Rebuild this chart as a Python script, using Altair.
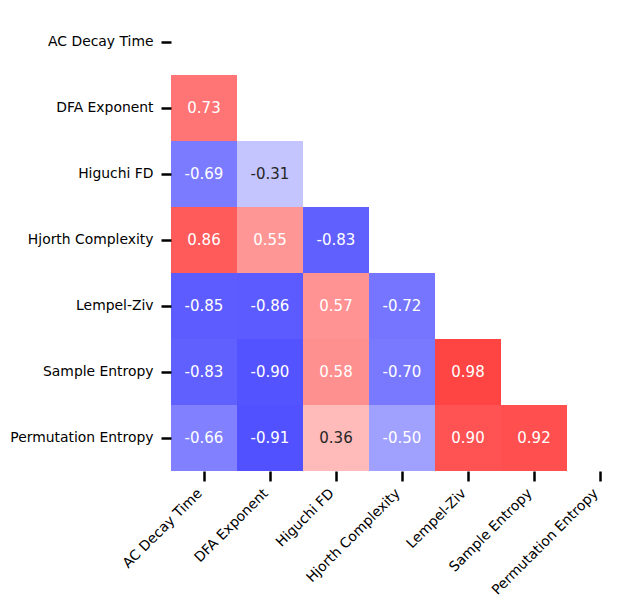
import altair as alt
import pandas as pd

features = ["AC Decay Time", "DFA Exponent", "Higuchi FD", "Hjorth Complexity",
            "Lempel-Ziv", "Sample Entropy", "Permutation Entropy"]

# lower-triangle correlation values, row by row (row i has i values)
row_dfa = [0.73]
row_higuchi = [-0.69, -0.31]
row_hjorth = [0.86, 0.55, -0.83]
row_lempel = [-0.85, -0.86, 0.57, -0.72]
row_sample = [-0.83, -0.90, 0.58, -0.70, 0.98]
row_perm = [-0.66, -0.91, 0.36, -0.50, 0.90, 0.92]

rows = [row_dfa, row_higuchi, row_hjorth, row_lempel, row_sample, row_perm]
records = []
for i, vals in enumerate(rows, start=1):
    for j, v in enumerate(vals):
        records.append({"row": features[i], "col": features[j], "value": v,
                        "label": f"{v:.2f}"})
df = pd.DataFrame(records)

x_enc = alt.X("col:N", scale=alt.Scale(domain=features, paddingInner=0, paddingOuter=0),
              axis=alt.Axis(title=None, labelAngle=315, labelAlign="right",
                            labelBaseline="top", domain=False, ticks=True,
                            tickSize=10, tickWidth=2.5, tickColor="black",
                            labelFont="DejaVu Sans", labelFontSize=13.9,
                            labelColor="black", labelPadding=5, labelOffset=-9,
                            grid=False))
y_enc = alt.Y("row:N", scale=alt.Scale(domain=features, paddingInner=0, paddingOuter=0),
              axis=alt.Axis(title=None, domain=False, ticks=True, tickSize=10,
                            tickWidth=2.5, tickColor="black",
                            labelFont="DejaVu Sans", labelFontSize=13.9,
                            labelColor="black", labelPadding=8, grid=False))

base = alt.Chart(df).encode(x=x_enc, y=y_enc)

rects = base.mark_rect().encode(
    color=alt.Color("value:Q",
                    scale=alt.Scale(domain=[-1, 0, 1],
                                    range=["#4040ff", "#ffffff", "#ff4040"],
                                    interpolate="rgb"),
                    legend=None)
)

texts = base.mark_text(font="DejaVu Sans", fontSize=15).encode(
    text="label:N",
    color=alt.condition("abs(datum.value) < 0.4", alt.value("#262626"), alt.value("#ffffff"))
)

chart = (rects + texts).properties(
    width=462, height=462,
    autosize=alt.AutoSizeParams(type="none"),
    padding={"left": 171, "top": 9, "right": 9, "bottom": 139},
).configure_view(stroke=None)

chart.save("out.html", embed_options={"renderer": "svg", "actions": False})
